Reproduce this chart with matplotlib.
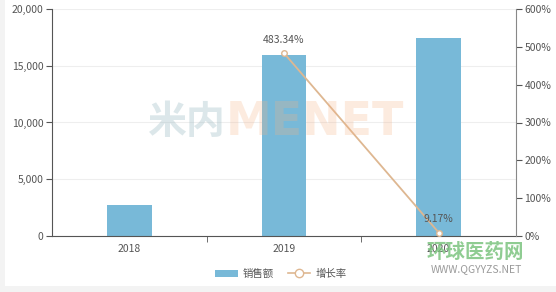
import matplotlib.pyplot as plt
from matplotlib.lines import Line2D
from matplotlib.patches import Patch, Rectangle
from matplotlib.ticker import FuncFormatter

plt.rcParams['font.family'] = ['Noto Sans CJK SC', 'DejaVu Sans']

# data
years = ["2018", "2019", "2020"]
sales = [2760, 15950, 17450]
growth_years = ["2019", "2020"]
growth = [483.34, 9.17]

bar_color = "#78b9d8"
line_color = "#deb791"
text_color = "#555555"

fig = plt.figure(figsize=(5.56, 2.92), dpi=100)
fig.patch.set_facecolor("#f3f3f3")
fig.patches.append(Rectangle((5 / 556, 6 / 292), 551 / 556, 286 / 292,
                             transform=fig.transFigure, facecolor="white",
                             edgecolor="none", zorder=-5))

ax = fig.add_axes([52 / 556, 56 / 292, 464 / 556, 227 / 292])
ax.set_facecolor("none")
x = list(range(len(years)))
ax.bar(x, sales, width=0.29, color=bar_color, zorder=2)
ax.set_xlim(-0.5, 2.5)
ax.set_ylim(0, 20000)
ax.set_yticks([0, 5000, 10000, 15000, 20000])
ax.yaxis.set_major_formatter(FuncFormatter(lambda v, p: f"{int(v):,}"))
ax.set_xticks(x)
ax.set_xticklabels(years)
ax.set_xticks([0.5, 1.5], minor=True)
ax.tick_params(axis="x", which="major", length=0, pad=6, labelsize=7.5, colors=text_color)
ax.tick_params(axis="x", which="minor", length=4, color=text_color)
ax.tick_params(axis="y", length=4, pad=2, labelsize=7.5, colors=text_color)
ax.grid(axis="y", color="#eeeeee", linewidth=0.8, zorder=0)
for s in ["top", "right"]:
    ax.spines[s].set_visible(False)
ax.spines["left"].set_color("#555555")
ax.spines["bottom"].set_color("#555555")

ax2 = ax.twinx()
gx = [years.index(y) for y in growth_years]
ax2.plot(gx, growth, color=line_color, linewidth=1.3, marker="o", markersize=4,
         markerfacecolor="white", markeredgecolor=line_color, zorder=3)
for xi, g in zip(gx, growth):
    ax2.annotate(f"{g:.2f}%", (xi, g), xytext=(0, 6), textcoords="offset points",
                 ha="center", va="bottom", fontsize=7.5, color=text_color)
ax2.set_ylim(0, 600)
ax2.set_yticks(range(0, 601, 100))
ax2.yaxis.set_major_formatter(FuncFormatter(lambda v, p: f"{int(v)}%"))
ax2.tick_params(axis="y", length=4, pad=2, labelsize=7.5, colors=text_color)
for s in ["top", "left", "bottom"]:
    ax2.spines[s].set_visible(False)
ax2.spines["right"].set_color("#888888")

# faint watermark over the plot
fig.text(147 / 556, 0.579, "米内", fontsize=28, fontweight="bold", color="#9dbcc4",
         alpha=0.35, ha="left", va="center", zorder=5)
fig.text(226 / 556, 0.579, "MENET", fontsize=33, fontweight="bold", color="#f5b283",
         family="DejaVu Sans", alpha=0.25, ha="left", va="center", zorder=5)
fig.text(0.855, 0.137, "环球医药网", fontsize=14, fontweight="bold", color="#7cc47f",
         ha="center", va="center", alpha=0.85, zorder=5)
fig.text(0.857, 0.079, "WWW.QGYYZS.NET", fontsize=7.5, color="#9a9a9a",
         ha="center", va="center", zorder=5)

handles = [Patch(facecolor=bar_color, edgecolor="none"),
           Line2D([], [], color=line_color, marker="o", markersize=6,
                  markerfacecolor="white", linewidth=1.2)]
fig.legend(handles, ["销售额", "增长率"], loc="center", bbox_to_anchor=(0.505, 0.062),
           ncol=2, frameon=False, fontsize=7.5, handlelength=2.2, handletextpad=0.5,
           columnspacing=1.3, labelcolor=text_color)

fig.savefig("out.png", dpi=100, facecolor=fig.get_facecolor())
